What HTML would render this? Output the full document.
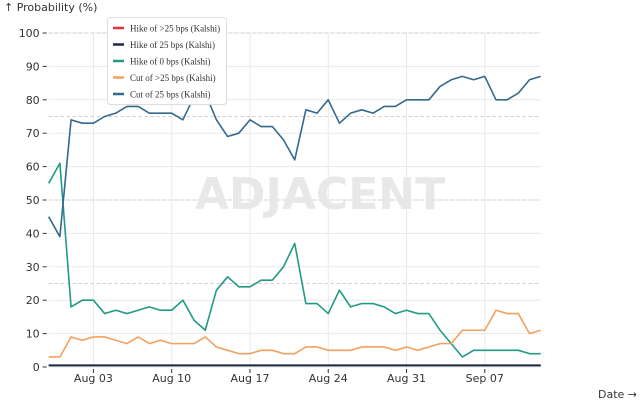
<!DOCTYPE html>
<html><head><meta charset="utf-8"><style>
body{margin:0;background:#fff;width:640px;height:400px;overflow:hidden;font-family:"Liberation Sans","DejaVu Sans",sans-serif}
</style></head><body>
<svg id="chart" width="640" height="400" xmlns="http://www.w3.org/2000/svg">
<g id="grid"></g>
<text x="320" y="209" text-anchor="middle" font-size="44" font-weight="bold" fill="#e8e8e8" font-family="DejaVu Sans, sans-serif">ADJACENT</text>
<g id="series"></g>
<g id="axes"></g>
<text x="4" y="11" font-size="11" fill="#333" font-family="DejaVu Sans, sans-serif">↑ Probability (%)</text>
<text x="637" y="398" text-anchor="end" font-size="11" fill="#333" font-family="DejaVu Sans, sans-serif">Date →</text>
<g id="legend"></g>
</svg>
<script>
const startDate = Date.UTC(2024,6,30);
const dayCount = 45;
const cut25 = [45,39,74,73,73,75,76,78,78,76,76,76,74,81,82,74,69,70,74,72,72,68,62,77,76,80,73,76,77,76,78,78,80,80,80,84,86,87,86,87,80,80,82,86,87];
const hike0 = [55,61,18,20,20,16,17,16,17,18,17,17,20,14,11,23,27,24,24,26,26,30,37,19,19,16,23,18,19,19,18,16,17,16,16,11,7,3,5,5,5,5,5,4,4];
const cutGt25 = [3,3,9,8,9,9,8,7,9,7,8,7,7,7,9,6,5,4,4,5,5,4,4,6,6,5,5,5,6,6,6,5,6,5,6,7,7,11,11,11,17,16,16,10,11];
const hike25 = Array(45).fill(0.5);
const hikeGt25 = Array(45).fill(0.5);
const yTicks = [0,10,20,30,40,50,60,70,80,90,100];
const xTickLabels = ["Aug 03","Aug 10","Aug 17","Aug 24","Aug 31","Sep 07"];
const xTickDays = [4,11,18,25,32,39];
const seriesNames = ["Hike of >25 bps (Kalshi)","Hike of 25 bps (Kalshi)","Hike of 0 bps (Kalshi)","Cut of >25 bps (Kalshi)","Cut of 25 bps (Kalshi)"];
const seriesColors = ["#e0353b","#1b2a44","#219a87","#f3a15f","#34698f"];
const seriesData = [hikeGt25,hike25,hike0,cutGt25,cut25];

const X0=48.7,X1=540.7,Y0=367,Y1=33;
const x = d => X0 + d*(X1-X0)/(dayCount-1);
const y = v => Y0 - v*(Y0-Y1)/100;
const NS="http://www.w3.org/2000/svg";
function mk(tag,parent,attrs){const e=document.createElementNS(NS,tag);for(const k in attrs)e.setAttribute(k,attrs[k]);parent.appendChild(e);return e;}
const grid=document.getElementById('grid'),axes=document.getElementById('axes'),ser=document.getElementById('series'),leg=document.getElementById('legend');
yTicks.forEach(t=>{
  const l=mk('line',grid,{x1:X0,x2:X1,y1:y(t),y2:y(t),stroke:'#e9e9e9','stroke-width':1});
  
  
  const tk=mk('line',axes,{x1:X0-6,x2:X0-2,y1:y(t),y2:y(t),stroke:'#333'});
  
  
  const tx=mk('text',axes,{x:X0-9,y:y(t)+4,'text-anchor':'end','font-size':11,fill:'#333','font-family':'DejaVu Sans, sans-serif'});
  tx.textContent=t;
  
  
});
[25,50,75,100].forEach(t=>{
  const l=mk('line',grid,{x1:X0,x2:X1,y1:y(t),y2:y(t),stroke:'#cccccc','stroke-dasharray':'3,3'});
  
  
});
xTickDays.forEach((d,i)=>{
  const l=mk('line',grid,{x1:x(d),x2:x(d),y1:Y1,y2:Y0,stroke:'#e9e9e9'});
  
  
  const tk=mk('line',axes,{x1:x(d),x2:x(d),y1:Y0+2,y2:Y0+6,stroke:'#333'});
  
  
  const tx=mk('text',axes,{x:x(d),y:Y0+15,'text-anchor':'middle','font-size':11,fill:'#333','font-family':'DejaVu Sans, sans-serif'});
  tx.textContent=xTickLabels[i];
  
  
});
seriesData.forEach((arr,i)=>{
  const p=mk('polyline',ser,{points:arr.map((v,d)=>x(d)+','+y(v)).join(' '),fill:'none',stroke:seriesColors[i],'stroke-width':i==1?2:1.6,'stroke-linejoin':'round'});
  
  
});
mk('rect',leg,{x:107.5,y:17.5,width:119,height:87,rx:3,fill:'#fff','fill-opacity':0.95,stroke:'#dddddd'});
seriesNames.forEach((n,i)=>{
  const yy=28+i*16.5;
  const sw=mk('line',leg,{x1:113,x2:124,y1:yy,y2:yy,stroke:seriesColors[i],'stroke-width':2.5});
  
  
  const t=mk('text',leg,{x:130,y:yy+3.5,'font-size':9,fill:'#333','font-family':'Liberation Serif, serif'});
  t.textContent=n;
  
  
});
</script>
</body></html>
